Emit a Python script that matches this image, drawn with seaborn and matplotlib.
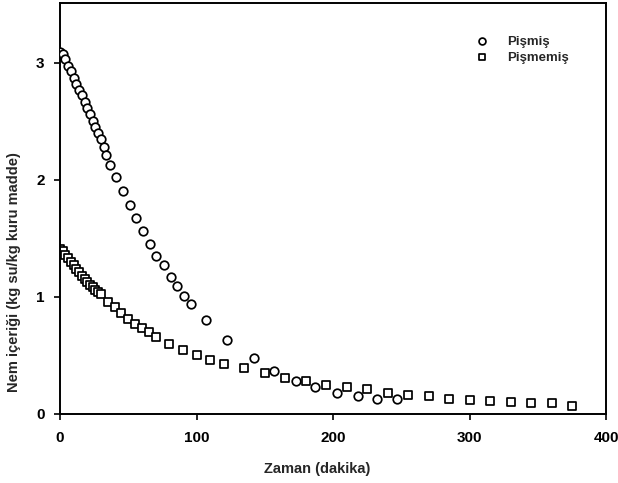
import pandas as pd
import seaborn as sns
import matplotlib
matplotlib.use('Agg')
import matplotlib.pyplot as plt

# Pişmiş örnek (daire)
t_pismis = [0, 2, 4, 6, 8, 10, 12, 14, 16, 18, 20, 22, 24, 26, 28, 30, 32, 34,
            37, 41, 46, 51, 56, 61, 66, 70, 76, 81, 86, 91, 96,
            107, 122, 142, 157, 173, 187, 203, 218, 232, 247]
nem_pismis = [3.09, 3.07, 3.03, 2.97, 2.93, 2.87, 2.82, 2.77, 2.72, 2.66, 2.61, 2.56,
              2.50, 2.45, 2.40, 2.35, 2.28, 2.21,
              2.13, 2.02, 1.90, 1.78, 1.67, 1.56, 1.45, 1.35, 1.27, 1.17, 1.09, 1.01, 0.94,
              0.80, 0.63, 0.48, 0.37, 0.28, 0.23, 0.18, 0.15, 0.13, 0.13]

# Pişmemiş örnek (kare)
t_pismemis = [0, 2, 4, 6, 8, 10, 12, 14, 16, 18, 20, 22, 24, 26, 28, 30,
              35, 40, 45, 50, 55, 60, 65, 70, 80, 90, 100, 110, 120,
              135, 150, 165, 180, 195, 210, 225, 240, 255, 270, 285, 300,
              315, 330, 345, 360, 375]
nem_pismemis = [1.41, 1.39, 1.36, 1.33, 1.30, 1.27, 1.24, 1.21, 1.18, 1.15, 1.13, 1.10,
                1.08, 1.06, 1.04, 1.02,
                0.96, 0.91, 0.86, 0.81, 0.77, 0.73, 0.70, 0.66, 0.60, 0.55, 0.50, 0.46, 0.43,
                0.39, 0.35, 0.31, 0.28, 0.25, 0.23, 0.21, 0.18, 0.16, 0.15, 0.13, 0.12,
                0.11, 0.10, 0.09, 0.09, 0.07]

x_ticks = [0, 100, 200, 300, 400]
y_ticks = [0, 1, 2, 3]

df_pismis = pd.DataFrame({'Zaman': t_pismis, 'Nem': nem_pismis})
df_pismemis = pd.DataFrame({'Zaman': t_pismemis, 'Nem': nem_pismemis})

sns.set_style('ticks')
plt.rcParams['font.family'] = ['Liberation Sans', 'DejaVu Sans']
plt.rcParams['font.weight'] = 'bold'

fig = plt.figure(figsize=(6.18, 4.83), dpi=100)
ax = fig.add_axes([0.097, 0.143, 0.884, 0.851])

sns.scatterplot(x='Zaman', y='Nem', data=df_pismis, marker='o', s=38,
                color='white', edgecolor='black', linewidth=1.25, label='Pişmiş', ax=ax, zorder=3)
sns.scatterplot(x='Zaman', y='Nem', data=df_pismemis, marker='s', s=32,
                color='white', edgecolor='black', linewidth=1.25, label='Pişmemiş', ax=ax, zorder=2)

ax.set_xlim(0, 400)
ax.set_ylim(0, 3.51)
ax.set_xticks(x_ticks)
ax.set_yticks(y_ticks)
ax.tick_params(direction='out', length=4, width=1.2, colors='black', labelsize=11)
ax.tick_params(axis='x', pad=8)
ax.tick_params(axis='y', pad=7)
for sp in ax.spines.values():
    sp.set_visible(True)
    sp.set_linewidth(1.4)
    sp.set_color('black')

ax.set_xlabel('Zaman (dakika)', fontsize=10.5, fontweight='bold')
ax.set_ylabel('Nem içeriği (kg su/kg kuru madde)', fontsize=10.5, fontweight='bold')
ax.xaxis.set_label_coords(0.47, -0.117)
ax.yaxis.set_label_coords(-0.072, 0.345)

ax.legend(frameon=False, loc='upper left', bbox_to_anchor=(0.727, 0.95),
          fontsize=9.5, handletextpad=0.9, labelspacing=0.3, markerscale=0.8)

fig.savefig('out.png', dpi=100)
